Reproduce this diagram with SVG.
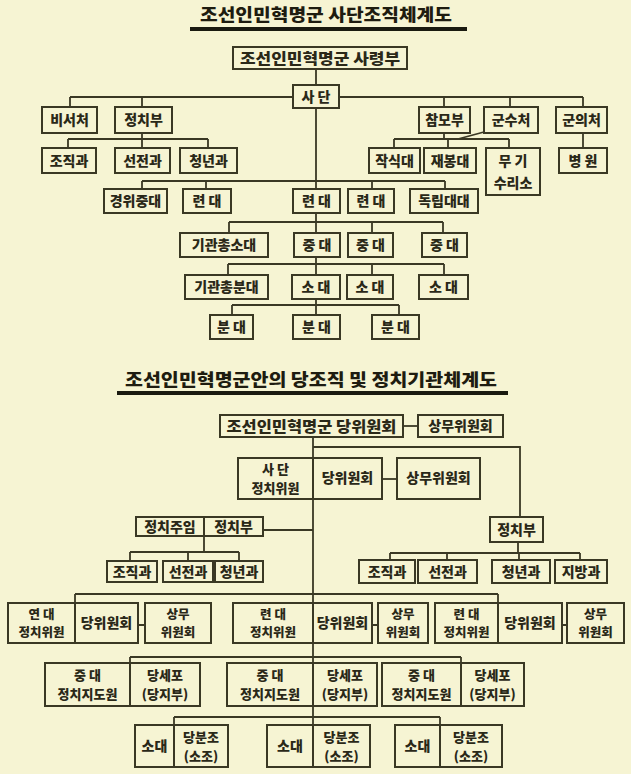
<svg xmlns="http://www.w3.org/2000/svg" width="640" height="774" viewBox="0 0 640 774">
<style>
.bg{fill:#f6f4d3}
.b{fill:#f6f4d3;stroke:#3a3824;stroke-width:2}
.d{stroke:#3a3824;stroke-width:2;fill:none}
.c path{stroke:#3a3824;stroke-width:1.8;fill:none}
.t{font-family:"Noto Sans CJK KR","Noto Sans",sans-serif;font-weight:900;font-size:14px;fill:#2a2818;text-anchor:middle}
.w{font-size:15px}
.s{font-size:13px}
.s2{font-size:12.5px}
.h{font-family:"Noto Sans CJK KR","Noto Sans",sans-serif;font-weight:900;font-size:17px;fill:#1e1c10;text-anchor:middle}
.u{stroke:#1a1a10;stroke-width:4}
</style>
<rect class="bg" x="0" y="0" width="640" height="774"/>
<rect x="631" y="0" width="9" height="774" fill="#ffffff"/>

<g id="title1">
<text class="h" x="326" y="21" textLength="252" lengthAdjust="spacingAndGlyphs">조선인민혁명군 사단조직체계도</text>
<line class="u" x1="190" y1="29" x2="467" y2="29"/>
</g>
<g id="title2">
<text class="h" x="311" y="386" textLength="372" lengthAdjust="spacingAndGlyphs">조선인민혁명군안의 당조직 및 정치기관체계도</text>
<line class="u" x1="117" y1="393" x2="508" y2="393"/>
</g>

<g class="c" id="connectors">
<path d="M316 69V85"/>
<path d="M70 97H293M339 97H583"/>
<path d="M70 97V107M142 97V107M444 97V107M510 97V107M583 97V107"/>
<path d="M142 133V139M68 139H208M68 139V148M142 139V148M208 139V148"/>
<path d="M444 133V139M394 139H509M394 139V148M448 139V148M509 139V148M458 139L484 132"/>
<path d="M583 133V148"/>
<path d="M316 108V315"/>
<path d="M142 181H445M142 181V189M206 181V189M372 181V189M445 181V189"/>
<path d="M229 222H443M229 222V233M372 222V233M443 222V233"/>
<path d="M228 264H444M228 264V275M372 264V275M444 264V275"/>
<path d="M232 305H399M232 305V315M399 305V315"/>

<path d="M403 426H418"/>
<path d="M313 437V767"/>
<path d="M313 447H520V517"/>
<path d="M382 479H397"/>
<path d="M263 530H313"/>
<path d="M204 536V552M130 552H239M130 552V561M188 552V561M239 552V561"/>
<path d="M518 542V553M390 553H580M390 553V560M447 553V560M519 553V560M580 553V560"/>
<path d="M75 594H498M75 594V603M498 594V603"/>
<path d="M138 625H145M372 625H378M562 625H567"/>
<path d="M130 657H461M130 657V663M461 657V663"/>
<path d="M174 717H440M174 717V725M440 717V725"/>
</g>

<g id="n-hq"><rect class="b" x="233" y="47" width="174" height="22"/><text class="t w" x="320" y="63.5" textLength="160" lengthAdjust="spacingAndGlyphs">조선인민혁명군 사령부</text></g>
<g id="n-sadan"><rect class="b" x="293" y="85" width="46" height="23"/><text class="t" x="316" y="101.5">사 단</text></g>
<g id="n-biseo"><rect class="b" x="42" y="107" width="55" height="26"/><text class="t" x="69.5" y="125">비서처</text></g>
<g id="n-jeongchi"><rect class="b" x="115" y="107" width="57" height="26"/><text class="t" x="143.5" y="125">정치부</text></g>
<g id="n-chammo"><rect class="b" x="419" y="107" width="51" height="26"/><text class="t" x="444.5" y="125">참모부</text></g>
<g id="n-gunsu"><rect class="b" x="484" y="107" width="54" height="26"/><text class="t" x="511" y="125">군수처</text></g>
<g id="n-guneui"><rect class="b" x="556" y="107" width="51" height="26"/><text class="t" x="581.5" y="125">군의처</text></g>
<g id="n-jojik1"><rect class="b" x="42" y="148" width="54" height="25"/><text class="t" x="69" y="165.5">조직과</text></g>
<g id="n-seonjeon1"><rect class="b" x="115" y="148" width="55" height="25"/><text class="t" x="142.5" y="165.5">선전과</text></g>
<g id="n-cheongnyeon1"><rect class="b" x="180" y="148" width="57" height="25"/><text class="t" x="208.5" y="165.5">청년과</text></g>
<g id="n-jaksik"><rect class="b" x="369" y="148" width="51" height="25"/><text class="t" x="394.5" y="165.5">작식대</text></g>
<g id="n-jaebong"><rect class="b" x="424" y="148" width="52" height="25"/><text class="t" x="450" y="165.5">재봉대</text></g>
<g id="n-mugi"><rect class="b" x="486" y="148" width="54" height="47"/><text class="t" x="513" y="166">무 기<tspan x="513" dy="22">수리소</tspan></text></g>
<g id="n-byeongwon"><rect class="b" x="559" y="148" width="48" height="25"/><text class="t" x="583" y="165.5">병 원</text></g>
<g id="n-gyeongwi"><rect class="b" x="104" y="189" width="63" height="24"/><text class="t" x="135.5" y="206">경위중대</text></g>
<g id="n-ryeon1"><rect class="b" x="183" y="189" width="48" height="24"/><text class="t" x="207" y="206">련 대</text></g>
<g id="n-ryeon2"><rect class="b" x="293" y="189" width="47" height="24"/><text class="t" x="316.5" y="206">련 대</text></g>
<g id="n-ryeon3"><rect class="b" x="348" y="189" width="46" height="24"/><text class="t" x="371" y="206">련 대</text></g>
<g id="n-dongnip"><rect class="b" x="410" y="189" width="68" height="24"/><text class="t" x="444" y="206">독립대대</text></g>
<g id="n-mgsodae"><rect class="b" x="180" y="233" width="88" height="24"/><text class="t" x="224" y="250">기관총소대</text></g>
<g id="n-jungdae1"><rect class="b" x="294" y="233" width="46" height="24"/><text class="t" x="317" y="250">중 대</text></g>
<g id="n-jungdae2"><rect class="b" x="348" y="233" width="45" height="24"/><text class="t" x="370.5" y="250">중 대</text></g>
<g id="n-jungdae3"><rect class="b" x="422" y="233" width="45" height="24"/><text class="t" x="444.5" y="250">중 대</text></g>
<g id="n-mgbundae"><rect class="b" x="185" y="275" width="83" height="24"/><text class="t" x="226.5" y="292">기관총분대</text></g>
<g id="n-sodae1"><rect class="b" x="292" y="275" width="48" height="24"/><text class="t" x="316" y="292">소 대</text></g>
<g id="n-sodae2"><rect class="b" x="347" y="275" width="46" height="24"/><text class="t" x="370" y="292">소 대</text></g>
<g id="n-sodae3"><rect class="b" x="419" y="275" width="49" height="24"/><text class="t" x="443.5" y="292">소 대</text></g>
<g id="n-bundae1"><rect class="b" x="210" y="315" width="43" height="24"/><text class="t" x="231.5" y="332">분 대</text></g>
<g id="n-bundae2"><rect class="b" x="293" y="315" width="47" height="24"/><text class="t" x="316.5" y="332">분 대</text></g>
<g id="n-bundae3"><rect class="b" x="372" y="315" width="47" height="24"/><text class="t" x="395.5" y="332">분 대</text></g>

<g id="p-dangwi"><rect class="b" x="220" y="415" width="183" height="22"/><text class="t w" x="311.5" y="431.5" textLength="170" lengthAdjust="spacingAndGlyphs">조선인민혁명군 당위원회</text></g>
<g id="p-sangmu0"><rect class="b" x="418" y="415" width="85" height="22"/><text class="t" x="460.5" y="431">상무위원회</text></g>
<g id="p-sadan"><rect class="b" x="238" y="458" width="144" height="41"/><line class="d" x1="313" y1="458" x2="313" y2="499"/><text class="t s" x="275.5" y="473.5">사 단<tspan x="275.5" dy="19">정치위원</tspan></text><text class="t" x="347.5" y="483">당위원회</text></g>
<g id="p-sangmu1"><rect class="b" x="397" y="458" width="83" height="41"/><text class="t" x="438.5" y="483">상무위원회</text></g>
<g id="p-jujim"><rect class="b" x="136" y="517" width="127" height="19"/><line class="d" x1="204" y1="517" x2="204" y2="536"/><text class="t" x="170" y="531.5">정치주임</text><text class="t" x="233.5" y="531.5">정치부</text></g>
<g id="p-jojik1"><rect class="b" x="107" y="561" width="50" height="21"/><text class="t" x="132" y="576.5">조직과</text></g>
<g id="p-seonjeon1"><rect class="b" x="163" y="561" width="50" height="21"/><text class="t" x="188" y="576.5">선전과</text></g>
<g id="p-cheong1"><rect class="b" x="215" y="561" width="48" height="21"/><text class="t" x="239" y="576.5">청년과</text></g>
<g id="p-jeongchi2"><rect class="b" x="490" y="517" width="53" height="25"/><text class="t" x="516.5" y="534.5">정치부</text></g>
<g id="p-jojik2"><rect class="b" x="359" y="560" width="56" height="23"/><text class="t" x="387" y="576.5">조직과</text></g>
<g id="p-seonjeon2"><rect class="b" x="418" y="560" width="59" height="23"/><text class="t" x="447.5" y="576.5">선전과</text></g>
<g id="p-cheong2"><rect class="b" x="492" y="560" width="58" height="23"/><text class="t" x="521" y="576.5">청년과</text></g>
<g id="p-jibang"><rect class="b" x="555" y="560" width="52" height="23"/><text class="t" x="581" y="576.5">지방과</text></g>

<g id="p-ryeondae1"><rect class="b" x="8" y="603" width="130" height="40"/><line class="d" x1="75" y1="603" x2="75" y2="643"/><text class="t s2" x="41.5" y="618.5">연 대<tspan x="41.5" dy="18.6">정치위원</tspan></text><text class="t" x="106.5" y="628">당위원회</text></g>
<g id="p-sangmu2"><rect class="b" x="145" y="603" width="66" height="40"/><text class="t s2" x="178" y="618.5">상무<tspan x="178" dy="18.6">위원회</tspan></text></g>
<g id="p-ryeondae2"><rect class="b" x="233" y="603" width="139" height="40"/><line class="d" x1="313" y1="603" x2="313" y2="643"/><text class="t s2" x="273" y="618.5">련 대<tspan x="273" dy="18.6">정치위원</tspan></text><text class="t" x="342.5" y="628">당위원회</text></g>
<g id="p-sangmu3"><rect class="b" x="378" y="603" width="50" height="40"/><text class="t s2" x="403" y="618.5">상무<tspan x="403" dy="18.6">위원회</tspan></text></g>
<g id="p-ryeondae3"><rect class="b" x="435" y="603" width="127" height="40"/><line class="d" x1="498" y1="603" x2="498" y2="643"/><text class="t s2" x="466.5" y="618.5">련 대<tspan x="466.5" dy="18.6">정치위원</tspan></text><text class="t" x="530" y="628">당위원회</text></g>
<g id="p-sangmu4"><rect class="b" x="567" y="603" width="57" height="40"/><text class="t s2" x="595.5" y="618.5">상무<tspan x="595.5" dy="18.6">위원회</tspan></text></g>

<g id="p-jungdae1"><rect class="b" x="45" y="663" width="155" height="43"/><line class="d" x1="130" y1="663" x2="130" y2="706"/><text class="t s" x="87.5" y="679.5">중 대<tspan x="87.5" dy="19.5">정치지도원</tspan></text><text class="t s" x="165" y="679.5">당세포<tspan x="165" dy="19.5">(당지부)</tspan></text></g>
<g id="p-jungdae2"><rect class="b" x="227" y="663" width="150" height="43"/><line class="d" x1="313" y1="663" x2="313" y2="706"/><text class="t s" x="270" y="679.5">중 대<tspan x="270" dy="19.5">정치지도원</tspan></text><text class="t s" x="345" y="679.5">당세포<tspan x="345" dy="19.5">(당지부)</tspan></text></g>
<g id="p-jungdae3"><rect class="b" x="382" y="663" width="142" height="43"/><line class="d" x1="461" y1="663" x2="461" y2="706"/><text class="t s" x="421.5" y="679.5">중 대<tspan x="421.5" dy="19.5">정치지도원</tspan></text><text class="t s" x="492.5" y="679.5">당세포<tspan x="492.5" dy="19.5">(당지부)</tspan></text></g>

<g id="p-sodae1"><rect class="b" x="135" y="725" width="93" height="42"/><line class="d" x1="174" y1="725" x2="174" y2="767"/><text class="t" x="154.5" y="751">소대</text><text class="t s" x="201" y="741.5">당분조<tspan x="201" dy="19">(소조)</tspan></text></g>
<g id="p-sodae2"><rect class="b" x="267" y="725" width="103" height="42"/><line class="d" x1="313" y1="725" x2="313" y2="767"/><text class="t" x="290" y="751">소대</text><text class="t s" x="341.5" y="741.5">당분조<tspan x="341.5" dy="19">(소조)</tspan></text></g>
<g id="p-sodae3"><rect class="b" x="395" y="725" width="107" height="42"/><line class="d" x1="440" y1="725" x2="440" y2="767"/><text class="t" x="417.5" y="751">소대</text><text class="t s" x="471" y="741.5">당분조<tspan x="471" dy="19">(소조)</tspan></text></g>
</svg>
